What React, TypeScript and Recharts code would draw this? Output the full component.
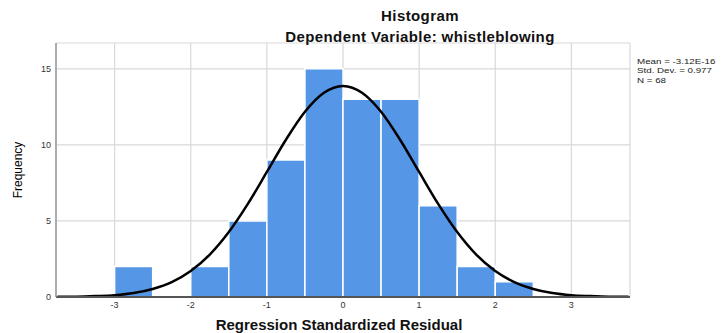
import React from "react";
import {
  ComposedChart,
  Line,
  XAxis,
  YAxis,
  CartesianGrid,
  ReferenceArea,
} from "recharts";

// Histogram bins (lower edge, upper edge, frequency)
const binLower = [-3.0, -2.0, -1.5, -1.0, -0.5, 0.0, 0.5, 1.0, 1.5, 2.0];
const binUpper = [-2.5, -1.5, -1.0, -0.5, 0.0, 0.5, 1.0, 1.5, 2.0, 2.5];
const binCounts = [2, 2, 5, 9, 15, 13, 13, 6, 2, 1];

// Normal curve points
const curveX = [
  -3.75, -3.5, -3.25, -3.0, -2.75, -2.5, -2.25, -2.0, -1.75, -1.5, -1.25, -1.0,
  -0.75, -0.5, -0.25, 0.0, 0.25, 0.5, 0.75, 1.0, 1.25, 1.5, 1.75, 2.0, 2.25,
  2.5, 2.75, 3.0, 3.25, 3.5, 3.75,
];
const curveY = [
  0.01, 0.02, 0.06, 0.12, 0.26, 0.53, 0.98, 1.71, 2.79, 4.27, 6.12, 8.22,
  10.34, 12.18, 13.43, 13.88, 13.43, 12.18, 10.34, 8.22, 6.12, 4.27, 2.79,
  1.71, 0.98, 0.53, 0.26, 0.12, 0.06, 0.02, 0.01,
];

const xTicks = [-3, -2, -1, 0, 1, 2, 3];
const yTicks = [0, 5, 10, 15];

const titleText = "Histogram";
const subtitleText = "Dependent Variable: whistleblowing";
const statsLines = ["Mean = -3.12E-16", "Std. Dev. = 0.977", "N = 68"];
const xLabel = "Regression Standardized Residual";
const yLabel = "Frequency";

const curveData = curveX.map((x, i) => ({ x, y: curveY[i] }));

const FONT = "'Liberation Sans', Arial, sans-serif";

export default function App() {
  return (
    <div
      style={{
        position: "absolute",
        left: 0,
        top: 0,
        width: 722,
        height: 333,
        background: "#fff",
        fontFamily: FONT,
        overflow: "hidden",
      }}
    >
      <ComposedChart
        width={722}
        height={333}
        data={curveData}
        margin={{ top: 43, right: 92, bottom: 0, left: 0 }}
      >
        <CartesianGrid stroke="#d9d9d9" strokeWidth={1.2} />
        <XAxis
          type="number"
          dataKey="x"
          domain={[-3.77, 3.77]}
          ticks={xTicks}
          allowDataOverflow
          height={36}
          tickLine={false}
          tickSize={4}
          tickMargin={1}
          stroke="#555"
          strokeWidth={2}
          tick={{ fill: "#333", fontSize: 9, fontFamily: FONT }}
          tickFormatter={(v: number) => String(v)}
        />
        <YAxis
          type="number"
          domain={[0, 16.7]}
          ticks={yTicks}
          allowDataOverflow
          width={56}
          tickLine={false}
          tickSize={3}
          tickMargin={2}
          stroke="#999"
          strokeWidth={1.5}
          tick={{ fill: "#333", fontSize: 9, fontFamily: FONT }}
        />
        {binCounts.map((c, i) => (
          <ReferenceArea
            key={i}
            x1={binLower[i]}
            x2={binUpper[i]}
            y1={0}
            y2={c}
            fill="#5596e6"
            fillOpacity={1}
            stroke="#ffffff"
            strokeWidth={1.5}
            ifOverflow="visible"
          />
        ))}
        <Line
          type="monotone"
          dataKey="y"
          stroke="#000"
          strokeWidth={2.5}
          dot={false}
          activeDot={false}
          isAnimationActive={false}
        />
      </ComposedChart>

      <div
        style={{
          position: "absolute",
          left: 0,
          width: 840,
          top: 7,
          textAlign: "center",
          fontSize: 15,
          letterSpacing: "0.4px",
          lineHeight: "17px",
          fontWeight: "bold",
          color: "#111",
        }}
      >
        {titleText}
      </div>
      <div
        style={{
          position: "absolute",
          left: 0,
          width: 840,
          top: 28,
          textAlign: "center",
          fontSize: 15,
          letterSpacing: "0.4px",
          lineHeight: "17px",
          fontWeight: "bold",
          color: "#111",
        }}
      >
        {subtitleText}
      </div>
      <div
        style={{
          position: "absolute",
          left: 637,
          top: 57,
          fontSize: 8,
          lineHeight: "9.3px",
          color: "#222",
          whiteSpace: "nowrap",
          transform: "scaleX(1.22)",
          transformOrigin: "0 0",
        }}
      >
        {statsLines.map((s, i) => (
          <div key={i}>{s}</div>
        ))}
      </div>
      <div
        style={{
          position: "absolute",
          left: 0,
          width: 678,
          top: 316,
          textAlign: "center",
          fontSize: 15,
          lineHeight: "17px",
          fontWeight: "bold",
          color: "#111",
        }}
      >
        {xLabel}
      </div>
      <div
        style={{
          position: "absolute",
          left: 18,
          top: 170,
          transform: "translate(-50%, -50%) rotate(-90deg)",
          fontSize: 12,
          color: "#000",
          whiteSpace: "nowrap",
        }}
      >
        {yLabel}
      </div>
    </div>
  );
}
